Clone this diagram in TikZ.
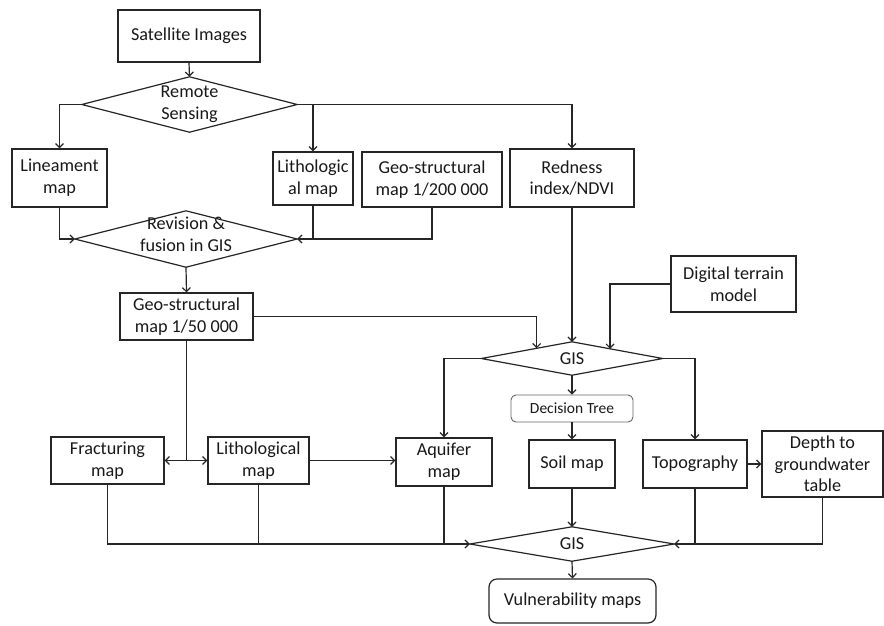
\documentclass[tikz,border=0pt]{standalone}
\usepackage{fontspec}
\setmainfont{Carlito}
\usetikzlibrary{arrows.meta,calc}
\newcommand\mainfnt{\fontsize{18.2}{21.7}\selectfont}
\newcommand\smallfnt{\fontsize{15.5}{18}\selectfont}
\begin{document}
\begin{tikzpicture}[x=1pt,y=-1pt,
  box/.style={draw=black!85, line width=1.2pt, align=center, inner sep=0pt, font=\mainfnt, text=black!90},
  dia/.style={align=center, inner sep=0pt, font=\mainfnt, text=black!90},
  dline/.style={draw=black!85, line width=1.2pt},
  conn/.style={draw=black!85, line width=1.2pt},
  arr/.style={conn, -{Straight Barb[length=4pt,width=8pt]}},
  arrb/.style={conn, {Straight Barb[length=4pt,width=8pt]}-{Straight Barb[length=4pt,width=8pt]}}]
\fill[white] (0,0) rectangle (884,625);
\useasboundingbox (0,0) rectangle (884,625);

% nodes
\node[box, minimum width=142pt, minimum height=52pt] (sat) at (189,36) {Satellite Images};
\node[dia, minimum width=215pt, minimum height=55pt] (rs) at (189.5,104.5) {Remote\\Sensing};
\draw[dline] (rs.north) -- (rs.east) -- (rs.south) -- (rs.west) -- cycle;

\node[box, minimum width=95pt, minimum height=58pt] (lin) at (59.5,178) {Lineament\\map};
\node[box, minimum width=80pt, minimum height=53pt] (lith1) at (313,178.5) {Lithologic\\al map};
\node[box, minimum width=140pt, minimum height=55pt] (geo200) at (432,179.5) {Geo-structural\\map 1/200 000};
\node[box, minimum width=124pt, minimum height=58pt] (red) at (572,178) {Redness\\index/NDVI};

\node[dia, minimum width=222pt, minimum height=56pt] (rev) at (186,239) {};
\node[dia, anchor=center] (revt) at ($(rev.center)+(0,-5)$) {Revision \&\\fusion in GIS};
\draw[dline] (rev.north) -- (rev.east) -- (rev.south) -- (rev.west) -- cycle;

\node[box, minimum width=133pt, minimum height=47pt] (geo50) at (186.5,316.5) {Geo-structural\\map 1/50 000};
\node[box, minimum width=125pt, minimum height=56pt] (dtm) at (733.5,284) {Digital terrain\\model};

\node[dia, minimum width=181pt, minimum height=33pt] (gis1) at (572,358.5) {GIS};
\draw[dline] (gis1.north) -- (gis1.east) -- (gis1.south) -- (gis1.west) -- cycle;

\node[box, draw=black!60, line width=0.9pt, rounded corners=5pt, font=\smallfnt, minimum width=122pt, minimum height=27pt] (dt) at (572,408.5) {Decision Tree};
\node[box, minimum width=86pt, minimum height=48pt] (soil) at (572,464) {Soil map};
\node[box, minimum width=96pt, minimum height=48pt] (aq) at (444,462) {Aquifer\\map};
\node[box, minimum width=104pt, minimum height=48pt] (topo) at (695,464) {Topography};
\node[box, minimum width=121pt, minimum height=66pt] (depth) at (822.5,464) {Depth to\\groundwater\\table};
\node[box, minimum width=113pt, minimum height=47pt] (frac) at (107.5,460.5) {Fracturing\\map};
\node[box, minimum width=101pt, minimum height=47pt] (lith2) at (258.5,460.5) {Lithological\\map};

\node[dia, minimum width=204pt, minimum height=34pt] (gis2) at (572,544) {GIS};
\draw[dline] (gis2.north) -- (gis2.east) -- (gis2.south) -- (gis2.west) -- cycle;

\node[box, rounded corners=8pt, minimum width=167pt, minimum height=44pt] (vul) at (572.5,601) {Vulnerability maps};

% connectors
\draw[arr] (sat.south) -- (rs.north);
\draw[arr] (rs.west) -| (lin.north);
\draw[arr] (rs.east) -| (red.north);
\draw[arr] (rs.east -| lith1.north) -- (lith1.north);
\draw[arr] (lin.south) |- (rev.west);
\draw[arr] (geo200.south) |- (rev.east);
\draw[conn] (lith1.south) -- (lith1.south |- rev.east);
\draw[arr] (rev.south) -- (geo50.north);
\coordinate (g1l) at ($(gis1.north)!0.39!(gis1.west)$);
\coordinate (g1r) at ($(gis1.north)!0.42!(gis1.east)$);
\draw[arr] (geo50.east) -| (g1l);
\draw[arr] (red.south) -- (gis1.north);
\draw[arr] (dtm.west) -| (g1r);
\draw[arr] (gis1.west) -| (aq.north);
\draw[arr] (gis1.east) -| (topo.north);
\draw[arr] (gis1.south) -- (dt.north);
\draw[arr] (dt.south) -- (soil.north);
\draw[conn] (geo50.south) -- (geo50.south |- frac.east);
\draw[arrb] (frac.east) -- (lith2.west);
\draw[arr] (lith2.east) -- (lith2.east -| aq.west);
\draw[arr] (topo.east) -- (depth.west);
\draw[arr] (frac.south) |- (gis2.west);
\draw[conn] (lith2.south) -- (lith2.south |- gis2.west);
\draw[conn] (aq.south) -- (aq.south |- gis2.west);
\draw[arr] (soil.south) -- (gis2.north);
\draw[arr] (depth.south) |- (gis2.east);
\draw[conn] (topo.south) -- (topo.south |- gis2.east);
\draw[arr] (gis2.south) -- (vul.north);
\end{tikzpicture}
\end{document}
